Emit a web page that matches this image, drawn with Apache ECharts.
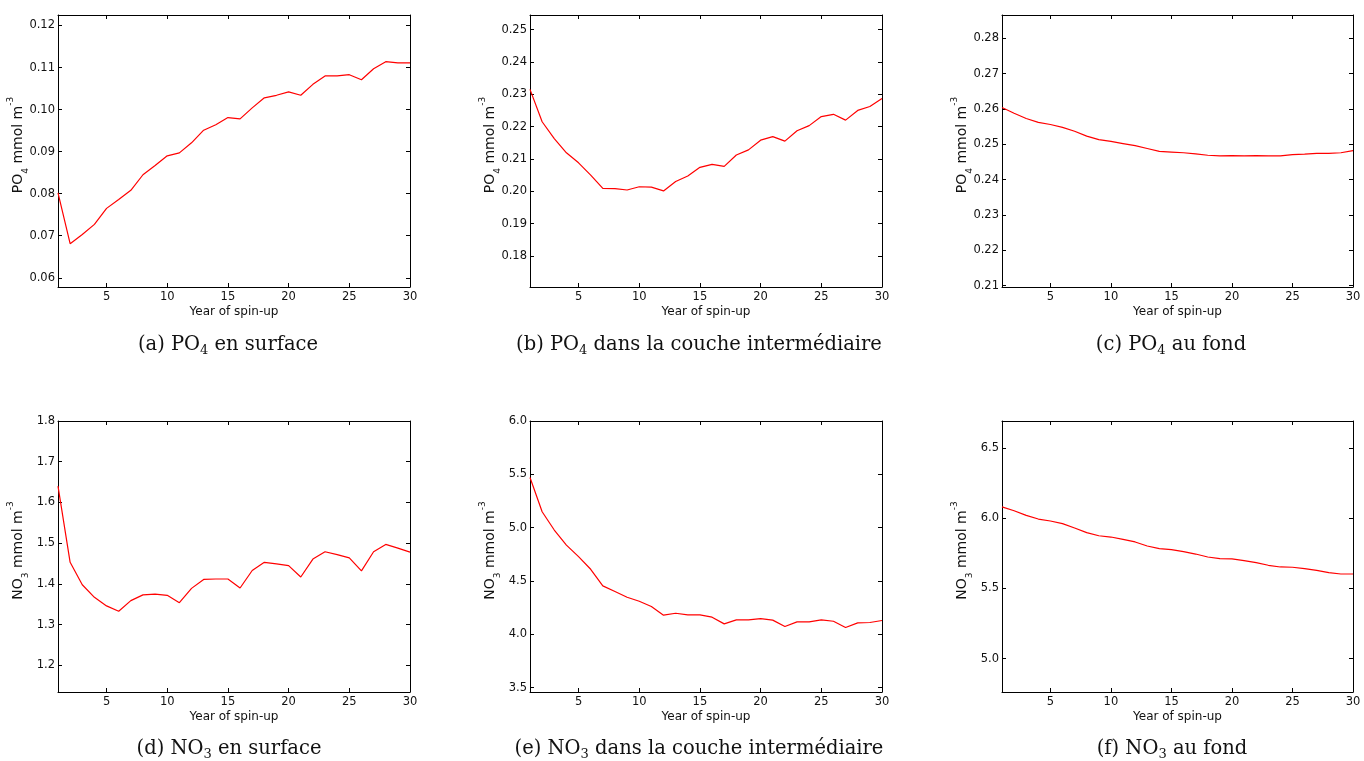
<!DOCTYPE html>
<html>
<head>
<meta charset="utf-8">
<script src="https://cdn.jsdelivr.net/npm/echarts@6/dist/echarts.min.js"></script>
<style>
html,body{margin:0;padding:0;background:#fff;}
#chart{width:1364px;height:761px;}
</style>
</head>
<body>
<div id="chart"></div>
<script>
// ---- data ----
const years = [1,2,3,4,5,6,7,8,9,10,11,12,13,14,15,16,17,18,19,20,21,22,23,24,25,26,27,28,29,30];
const yearTicks = [5,10,15,20,25,30];

const po4Surface = [0.0802,0.0681,0.0703,0.0727,0.0765,0.0786,0.0808,0.0845,0.0867,0.0890,0.0897,0.0921,0.0951,0.0964,0.0981,0.0978,0.1004,0.1028,0.1034,0.1042,0.1034,0.1060,0.1080,0.1080,0.1083,0.1071,0.1097,0.1114,0.1111,0.1111];
const po4Inter = [0.2315,0.2215,0.2163,0.2119,0.2088,0.2050,0.2009,0.2008,0.2004,0.2014,0.2013,0.2001,0.2030,0.2047,0.2074,0.2083,0.2077,0.2112,0.2128,0.2158,0.2169,0.2155,0.2187,0.2203,0.2231,0.2238,0.2220,0.2250,0.2262,0.2287];
const po4Bottom = [0.2604,0.2588,0.2573,0.2562,0.2556,0.2548,0.2537,0.2523,0.2513,0.2508,0.2502,0.2496,0.2488,0.2480,0.2478,0.2476,0.2473,0.2469,0.2467,0.2468,0.2467,0.2468,0.2467,0.2467,0.2471,0.2472,0.2474,0.2474,0.2476,0.2482];
const no3Surface = [1.640,1.453,1.398,1.367,1.346,1.333,1.359,1.373,1.375,1.372,1.354,1.389,1.411,1.412,1.412,1.390,1.433,1.453,1.449,1.445,1.417,1.461,1.479,1.472,1.464,1.432,1.479,1.497,1.488,1.478];
const no3Inter = [5.470,5.149,4.978,4.837,4.728,4.610,4.454,4.401,4.348,4.310,4.261,4.180,4.198,4.183,4.183,4.161,4.098,4.136,4.136,4.148,4.133,4.074,4.117,4.117,4.136,4.123,4.064,4.108,4.111,4.130];
const no3Bottom = [6.081,6.053,6.020,5.994,5.980,5.961,5.930,5.897,5.875,5.866,5.849,5.831,5.802,5.783,5.776,5.762,5.745,5.724,5.712,5.710,5.698,5.684,5.665,5.653,5.651,5.641,5.629,5.613,5.603,5.603];

const po4SurfaceTicks = [0.06,0.07,0.08,0.09,0.10,0.11,0.12];
const po4InterTicks = [0.18,0.19,0.20,0.21,0.22,0.23,0.24,0.25];
const po4BottomTicks = [0.21,0.22,0.23,0.24,0.25,0.26,0.27,0.28];
const no3SurfaceTicks = [1.2,1.3,1.4,1.5,1.6,1.7,1.8];
const no3InterTicks = [3.5,4.0,4.5,5.0,5.5,6.0];
const no3BottomTicks = [5.0,5.5,6.0,6.5];

const captions = [
  ['(a) ', 'PO', '4', ' en surface'],
  ['(b) ', 'PO', '4', ' dans la couche intermédiaire'],
  ['(c) ', 'PO', '4', ' au fond'],
  ['(d) ', 'NO', '3', ' en surface'],
  ['(e) ', 'NO', '3', ' dans la couche intermédiaire'],
  ['(f) ', 'NO', '3', ' au fond']
];

// ---- layout ----
const panels = [
  {data: po4Surface, ticks: po4SurfaceTicks, dec: 2, min: 0.0578, max: 0.1225, sp: ['PO','4'], left: 58, top: 15, w: 352, h: 272, cx: 228, cy: 345},
  {data: po4Inter, ticks: po4InterTicks, dec: 2, min: 0.1704, max: 0.2545, sp: ['PO','4'], left: 530, top: 15, w: 352, h: 272, cx: 699, cy: 345},
  {data: po4Bottom, ticks: po4BottomTicks, dec: 2, min: 0.2096, max: 0.2866, sp: ['PO','4'], left: 1002, top: 15, w: 351, h: 272, cx: 1171, cy: 345},
  {data: no3Surface, ticks: no3SurfaceTicks, dec: 1, min: 1.1346, max: 1.8, sp: ['NO','3'], left: 58, top: 421, w: 352, h: 271, cx: 229, cy: 749},
  {data: no3Inter, ticks: no3InterTicks, dec: 1, min: 3.4595, max: 6.0, sp: ['NO','3'], left: 530, top: 421, w: 352, h: 271, cx: 699, cy: 749},
  {data: no3Bottom, ticks: no3BottomTicks, dec: 1, min: 4.7634, max: 6.6916, sp: ['NO','3'], left: 1002, top: 421, w: 351, h: 271, cx: 1172, cy: 749}
];

const FONT = 'DejaVu Sans';
const grid = [], xAxis = [], yAxis = [], series = [], graphic = [];
const lineCol = '#000';

panels.forEach((p, i) => {
  grid.push({left: p.left, top: p.top, width: p.w, height: p.h, containLabel: false});
  const tickStyle = {show: true, inside: true, length: 4, lineStyle: {color: lineCol, width: 1}};
  // bottom x
  xAxis.push({
    type: 'value', gridIndex: i, min: 1, max: 30, position: 'bottom',
    name: 'Year of spin-up', nameLocation: 'middle', nameGap: 19, nameMoveOverlap: false,
    nameTextStyle: {fontFamily: FONT, fontSize: 12, color: '#111'},
    axisLine: {show: true, onZero: false, lineStyle: {color: lineCol, width: 1}},
    axisTick: Object.assign({customValues: yearTicks}, tickStyle),
    axisLabel: {customValues: yearTicks, margin: 4, fontFamily: FONT, fontSize: 11.5, color: '#111'},
    splitLine: {show: false}
  });
  // top x (frame)
  xAxis.push({
    type: 'value', gridIndex: i, min: 1, max: 30, position: 'top',
    axisLine: {show: true, onZero: false, lineStyle: {color: lineCol, width: 1}},
    axisTick: Object.assign({customValues: yearTicks}, tickStyle),
    axisLabel: {show: false}, splitLine: {show: false}
  });
  // left y
  yAxis.push({
    type: 'value', gridIndex: i, min: p.min, max: p.max, position: 'left',
    name: '{m|' + p.sp[0] + '}{s|' + p.sp[1] + '}{m| mmol m}{p|-3}',
    nameLocation: 'middle', nameRotate: 90, nameGap: 28, nameMoveOverlap: false,
    nameTextStyle: {
      fontFamily: FONT, fontSize: 14, color: '#111', padding: [0, 0, 0, 12],
      rich: {
        m: {fontFamily: FONT, fontSize: 14, lineHeight: 24, color: '#111', verticalAlign: 'middle'},
        s: {fontFamily: FONT, fontSize: 9, lineHeight: 6, color: '#111', verticalAlign: 'bottom'},
        p: {fontFamily: FONT, fontSize: 9, lineHeight: 16, color: '#111', verticalAlign: 'top'}
      }
    },
    axisLine: {show: true, onZero: false, lineStyle: {color: lineCol, width: 1}},
    axisTick: Object.assign({customValues: p.ticks}, tickStyle),
    axisLabel: {customValues: p.ticks, margin: 3, fontFamily: FONT, fontSize: 11.5, color: '#111',
      formatter: v => v.toFixed(p.dec)},
    splitLine: {show: false}
  });
  // right y (frame)
  yAxis.push({
    type: 'value', gridIndex: i, min: p.min, max: p.max, position: 'right',
    axisLine: {show: true, onZero: false, lineStyle: {color: lineCol, width: 1}},
    axisTick: Object.assign({customValues: p.ticks}, tickStyle),
    axisLabel: {show: false}, splitLine: {show: false}
  });
  series.push({
    type: 'line', xAxisIndex: 2 * i, yAxisIndex: 2 * i,
    data: years.map((y, k) => [y, p.data[k]]),
    showSymbol: false, symbol: 'none',
    lineStyle: {color: '#ff0000', width: 1.2}, itemStyle: {color: '#ff0000'},
    silent: true, animation: false
  });
  const c = captions[i];
  graphic.push({
    type: 'text', x: p.cx, y: p.cy,
    style: {
      text: '{t|' + c[0] + c[1] + '}{u|' + c[2] + '}{t|' + c[3] + '}',
      align: 'center', verticalAlign: 'middle',
      rich: {
        t: {fontFamily: 'DejaVu Serif', fontSize: 19.5, lineHeight: 24, fill: '#111', verticalAlign: 'middle'},
        u: {fontFamily: 'DejaVu Serif', fontSize: 13, lineHeight: 11, fill: '#111', verticalAlign: 'bottom'}
      }
    }
  });
});

const chart = echarts.init(document.getElementById('chart'), null, {renderer: 'canvas'});
chart.setOption({
  animation: false,
  backgroundColor: '#fff',
  grid: grid, xAxis: xAxis, yAxis: yAxis, series: series, graphic: graphic
});
</script>
</body>
</html>
